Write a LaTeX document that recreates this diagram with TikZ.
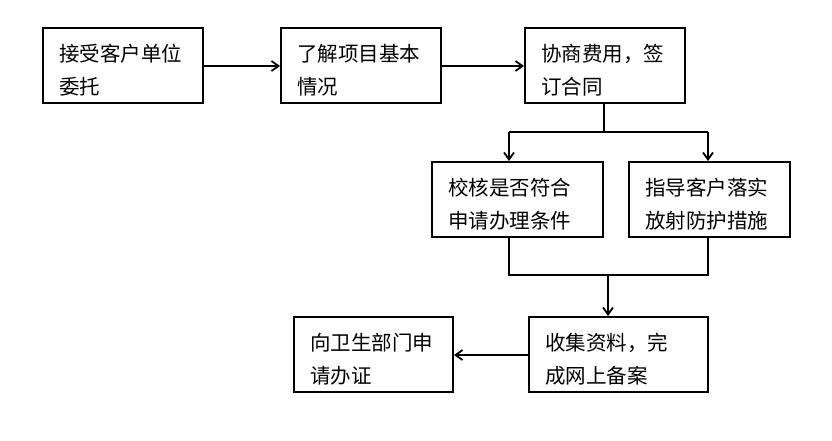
\documentclass[tikz,border=0pt]{standalone}
\usepackage{fontspec}
\setmainfont{Noto Sans CJK SC}
\usetikzlibrary{arrows.meta}
\begin{document}
\begin{tikzpicture}[x=1pt,y=-1pt,
  box/.style={draw,line width=2pt,inner sep=0pt},
  boxtext/.style={align=left,inner sep=0pt,font=\fontsize{20.5}{33}\selectfont},
  conn/.style={line width=2pt},
  arr/.style={conn,-{Straight Barb[length=7pt,width=10pt,line width=1.8pt]}}]
\useasboundingbox (0,0) rectangle (832,440);
\newcommand{\mybox}[6]{% name, x1, y1, x2, y2, text
  \node[box,minimum width={#4-#2},minimum height={#5-#3}]
    (#1) at ({(#2+#4)/2},{(#3+#5)/2}) {};
  \node[boxtext,text width={#4-#2-32}]
    (#1t) at ({(#2+#4)/2},{(#3+#5)/2+5}) {#6};}
\mybox{b1}{43}{28}{203}{103}{接受客户单位\\委托}
\mybox{b2}{281}{28}{441}{103}{了解项目基本\\情况}
\mybox{b3}{525}{28}{685}{103}{协商费用，签\\订合同}
\mybox{b4}{432}{162}{603}{237}{校核是否符合\\申请办理条件}
\mybox{b5}{629}{162}{790}{237}{指导客户落实\\放射防护措施}
\mybox{b6}{529}{317}{708}{392}{收集资料，完\\成网上备案}
\mybox{b7}{294}{317}{453}{392}{向卫生部门申\\请办证}
\coordinate (h1) at (0,66);
\coordinate (h2) at (0,355);
\draw[arr] (b1.east |- h1) -- (b2.west |- h1);
\draw[arr] (b2.east |- h1) -- (b3.west |- h1);
\coordinate (s1) at (604,132);
\coordinate (l1) at (509,132);
\coordinate (r1) at (708,132);
\draw[conn] (b3.south -| s1) -- (s1);
\draw[conn] (l1) -- (r1);
\draw[arr] (l1) -- (l1 |- b4.north);
\draw[arr] (r1) -- (r1 |- b5.north);
\coordinate (l2) at (509,275);
\coordinate (r2) at (708,275);
\coordinate (m2) at (608,275);
\draw[conn] (l2 |- b4.south) -- (l2) -- (r2) -- (r2 |- b5.south);
\draw[arr] (m2) -- (m2 |- b6.north);
\draw[arr] (b6.west |- h2) -- (b7.east |- h2);
\end{tikzpicture}
\end{document}
